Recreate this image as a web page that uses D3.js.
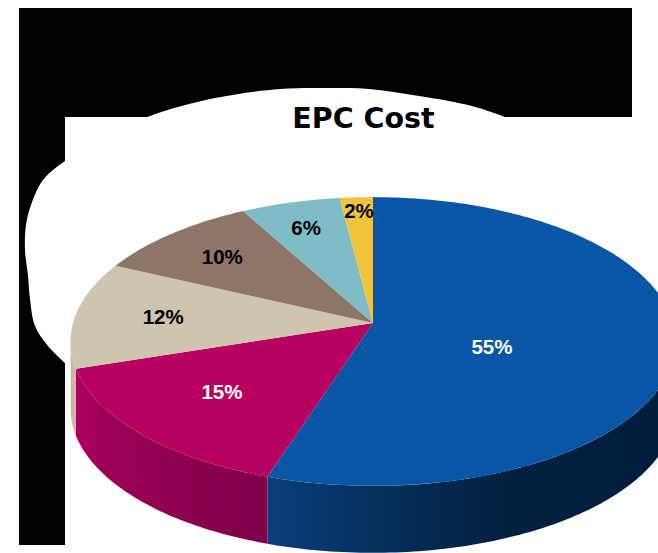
<!DOCTYPE html>
<html><head><meta charset="utf-8">
<script src="https://cdn.jsdelivr.net/npm/d3@7"></script>
<style>html,body{margin:0;background:#fff}svg{display:block}</style></head>
<body><div id="c"></div>
<script>
const categories = ["a","b","c","d","e","f"];
const values = [55,15,12,10,6,2];
const labels = ["55%","15%","12%","10%","6%","2%"];
const title = "EPC Cost";
const topColors = ["#0a56a6","#b80060","#cfc4ae","#8d7667","#7fbcc5","#f2c43c"];
const sideStops = [
  [[0,"#0a3e7c"],[.26,"#06305f"],[.6,"#02203f"],[1,"#011d3d"]],
  [[0,"#b00062"],[.15,"#9c0056"],[.6,"#8c004c"],[1,"#80004a"]],
  [[0,"#c6bca6"],[1,"#c6bca6"]]
];
const labelColors = ["#fff","#fff","#000","#000","#000","#000"];
const labelNudge = [[-61,10.5],[-16.5,5],[-31,-.7],[-26,-10.6],[-15,-20],[-3.5,-33]];

const W=658,H=553, ax=373, ay=323, A=300, B=142, k=.128, depth=67;
const svg=d3.select("#c").append("svg").attr("width",W).attr("height",H);
const defs=svg.append("defs");

// backdrop
svg.append("path").attr("fill","#000")
  .attr("d","M19,8H632V117H65V545H19Z");
const blob=[[505,117],[472,106],[419,96],[369,89],[329,88],[280,89],[215,98],[150,116],[105,137],[65,161],[43,180],[31,205],[26,225],[25,250],[28,276],[30,299],[35,326],[48,346],[65,363]];
svg.append("path").attr("fill","#fff")
  .attr("d",d3.line().curve(d3.curveCatmullRom)(blob)+"L200,363L505,200Z");

// perspective projection of the pie disc
function proj(t,r,dy=0){
  const X=r*Math.sin(t),Y=r*Math.cos(t),w=1+k*Y;
  return [ax+A*X/w, ay-B*Y/w+dy];
}
const arcs=d3.pie().sort(null).value(d=>d)(values);
const deg=Math.PI/180, visFrom=84*deg, visTo=261*deg;
const line=d3.line();
function rim(a,b,dy=0){
  const n=Math.max(2,Math.ceil((b-a)/(1*deg)));
  return d3.range(n+1).map(i=>proj(a+(b-a)*i/n,1,dy));
}
// side walls
arcs.forEach((d,i)=>{
  const a=Math.max(d.startAngle,visFrom), b=Math.min(d.endAngle,visTo);
  if(b<=a) return;
  const x=[proj(a,1)[0],proj(b,1)[0]];
  const g=defs.append("linearGradient").attr("id","s"+i).attr("gradientUnits","userSpaceOnUse")
    .attr("x1",Math.min(...x)).attr("x2",Math.max(...x)).attr("y1",0).attr("y2",0);
  sideStops[i].forEach(s=>g.append("stop").attr("offset",s[0]).attr("stop-color",s[1]));
  const pts=rim(a,b).concat(rim(a,b,depth).reverse());
  svg.append("path").attr("fill",`url(#s${i})`).attr("d",line(pts)+"Z");
});
// top faces
arcs.forEach((d,i)=>{
  svg.append("path").attr("fill",topColors[i]).attr("data-cat",categories[i])
    .attr("d",line([[ax,ay],...rim(d.startAngle,d.endAngle)])+"Z");
});
// labels
arcs.forEach((d,i)=>{
  const p=proj((d.startAngle+d.endAngle)/2,.6);
  svg.append("text").attr("x",p[0]+labelNudge[i][0]).attr("y",p[1]+labelNudge[i][1])
    .attr("dy",".35em").attr("text-anchor","middle")
    .attr("font-family","'Liberation Sans',Arial,sans-serif").attr("font-weight","bold")
    .attr("font-size",20.5).attr("fill",labelColors[i]).text(labels[i]);
});
svg.append("text").attr("x",363.5).attr("y",128).attr("text-anchor","middle")
  .attr("font-family","'DejaVu Sans',Verdana,sans-serif").attr("font-weight","bold")
  .attr("font-size",28.5).attr("fill","#000").text(title);
</script></body></html>
